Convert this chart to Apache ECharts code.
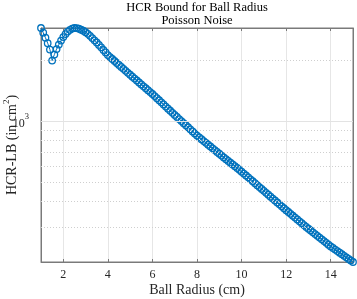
<!DOCTYPE html>
<html>
<head>
<meta charset="utf-8">
<script src="https://cdn.jsdelivr.net/npm/echarts@6/dist/echarts.min.js"></script>
<style>
html,body{margin:0;padding:0;background:#fff;}
#chart{width:357px;height:299px;}
</style>
</head>
<body>
<div id="chart"></div>
<script>
// Ball radius (cm)
var radius = [
  1.0,1.1,1.2,1.3,1.4,1.5,1.6,1.7,1.8,1.9,
  2.0,2.1,2.2,2.3,2.4,2.5,2.6,2.7,2.8,2.9,
  3.0,3.1,3.2,3.3,3.4,3.5,3.6,3.7,3.8,3.9,
  4.0,4.1,4.2,4.3,4.4,4.5,4.6,4.7,4.8,4.9,
  5.0,5.1,5.2,5.3,5.4,5.5,5.6,5.7,5.8,5.9,
  6.0,6.1,6.2,6.3,6.4,6.5,6.6,6.7,6.8,6.9,
  7.0,7.1,7.2,7.3,7.4,7.5,7.6,7.7,7.8,7.9,
  8.0,8.1,8.2,8.3,8.4,8.5,8.6,8.7,8.8,8.9,
  9.0,9.1,9.2,9.3,9.4,9.5,9.6,9.7,9.8,9.9,
  10.0,10.1,10.2,10.3,10.4,10.5,10.6,10.7,10.8,10.9,
  11.0,11.1,11.2,11.3,11.4,11.5,11.6,11.7,11.8,11.9,
  12.0,12.1,12.2,12.3,12.4,12.5,12.6,12.7,12.8,12.9,
  13.0,13.1,13.2,13.3,13.4,13.5,13.6,13.7,13.8,13.9,
  14.0,14.1,14.2,14.3,14.4,14.5,14.6,14.7,14.8,14.9,
  15.0
];
// HCR lower bound (cm^2)
var hcrLB = [
  2875,2725,2575,2420,2250,1985,2126,2263,2382,2492,
  2593,2683,2760,2817,2855,2875,2871,2851,2818,2786,
  2742,2692,2630,2564,2500,2438,2371,2307,2239,2178,
  2113,2066,2021,1976,1932,1890,1848,1807,1767,1728,
  1690,1653,1618,1583,1548,1515,1482,1450,1419,1388,
  1358,1326,1295,1265,1235,1206,1178,1150,1123,1097,
  1071,1047,1022,999,975,953,931,909,888,867,
  847,830,813,796,780,764,748,733,718,703,
  689,675,661,648,635,622,610,598,586,574,
  562,550,538,527,515,504,493,482,472,462,
  452,442,433,423,414,405,396,388,379,371,
  363,355.5,348,340.7,333.6,326.6,319.7,313,306.5,300,
  293.8,288,282.3,276.7,271.2,265.8,260.5,255.4,250.3,245.3,
  240.5,236.2,232,227.9,223.9,220,216.1,212.3,208.6,204.9,
  201.4
];
var xTicks = [2,4,6,8,10,12,14];
var yMajorGrid = [1000];
var yMinorGrid = [300,400,500,600,700,800,900,2000];
var titleText = 'HCR Bound for Ball Radius';
var subtitleText = 'Poisson Noise';
var xName = 'Ball Radius (cm)';
var yName = 'HCR-LB (in cm{s|2})';

var X_MIN = 1, X_MAX = 15, Y_MIN = 201.4, Y_MAX = 2875;
var FONT = '"Liberation Serif","Times New Roman",serif';
var AX = '#7a7a7a', TXT = '#262626';

var pts = radius.map(function(x,i){ return [x, hcrLB[i]]; });

var chart = echarts.init(document.getElementById('chart'), null, {renderer:'canvas'});
chart.setOption({
  animation:false,
  backgroundColor:'#fff',
  textStyle:{fontFamily:FONT},
  title:{
    text: titleText, subtext: subtitleText,
    left:197, top:2, textAlign:'center', itemGap:0, padding:0,
    textStyle:{fontFamily:FONT,fontSize:12.5,fontWeight:'normal',color:'#000',lineHeight:12},
    subtextStyle:{fontFamily:FONT,fontSize:12.5,fontWeight:'normal',color:'#000',lineHeight:12}
  },
  grid:{left:41,right:4,top:28,bottom:37,containLabel:false,outerBoundsMode:'none',
        show:true,borderColor:AX,borderWidth:1,backgroundColor:'rgba(0,0,0,0)'},
  xAxis:[{
    type:'value', min:X_MIN, max:X_MAX, position:'bottom',
    name:xName, nameLocation:'middle', nameGap:20, nameMoveOverlap:false,
    nameTextStyle:{fontFamily:FONT,fontSize:14,color:TXT,lineHeight:16},
    axisLine:{show:true,onZero:false,lineStyle:{color:AX,width:1}},
    axisTick:{show:true,inside:true,length:3,customValues:xTicks,lineStyle:{color:AX}},
    axisLabel:{show:true,customValues:xTicks,margin:7,fontFamily:FONT,fontSize:12,color:TXT},
    splitLine:{show:true,lineStyle:{color:'#e6e6e6',width:1}}
  },{
    type:'value', min:X_MIN, max:X_MAX, position:'top',
    axisLine:{show:true,onZero:false,lineStyle:{color:AX,width:1}},
    axisTick:{show:true,inside:true,length:3,customValues:xTicks,lineStyle:{color:AX}},
    axisLabel:{show:false},
    splitLine:{show:false}
  }],
  yAxis:[{
    type:'log', logBase:10, min:Y_MIN, max:Y_MAX, position:'left',
    name:yName, nameLocation:'middle', nameRotate:90, nameGap:19, nameMoveOverlap:false,
    nameTextStyle:{fontFamily:FONT,fontSize:14,color:TXT,lineHeight:20,
      rich:{s:{fontFamily:FONT,fontSize:9,color:TXT,lineHeight:8,verticalAlign:'top'}}},
    axisLine:{show:true,onZero:false,lineStyle:{color:AX,width:1}},
    axisTick:{show:false},
    minorTick:{show:false},
    axisLabel:{show:true,margin:12,
      formatter:function(v){ return Math.abs(v-1000)<1 ? '{b|10}{s|3}' : ''; },
      rich:{
        b:{fontFamily:FONT,fontSize:12,color:TXT,lineHeight:18,padding:[6,0,0,0],verticalAlign:'bottom'},
        s:{fontFamily:FONT,fontSize:8.5,color:TXT,lineHeight:18,verticalAlign:'top'}
      }},
    splitLine:{show:false},
    minorSplitLine:{show:false}
  },{
    type:'log', logBase:10, min:Y_MIN, max:Y_MAX, position:'right',
    axisLine:{show:true,onZero:false,lineStyle:{color:AX,width:1}},
    axisTick:{show:false},
    minorTick:{show:false},
    axisLabel:{show:false},
    splitLine:{show:false},
    minorSplitLine:{show:false}
  }],
  series:[{
    name:'minor grid', type:'line', data:[], z:1, silent:true,
    xAxisIndex:0, yAxisIndex:0,
    markLine:{
      silent:true, symbol:['none','none'], animation:false,
      label:{show:false},
      lineStyle:{color:'#cfcfcf',width:1,type:[1,2]},
      emphasis:{disabled:true},
      data: yMinorGrid.map(function(v){ return {yAxis:v}; })
    }
  },{
    name:'major grid', type:'line', data:[], z:1, silent:true,
    xAxisIndex:0, yAxisIndex:0,
    markLine:{
      silent:true, symbol:['none','none'], animation:false,
      label:{show:false},
      lineStyle:{color:'#e3e3e3',width:1,type:'solid'},
      emphasis:{disabled:true},
      data: yMajorGrid.map(function(v){ return {yAxis:v}; })
    }
  },{
    name:'HCR-LB', type:'line', data:pts, z:3, clip:false,
    xAxisIndex:0, yAxisIndex:0,
    symbol:'circle', symbolSize:6.5, showSymbol:true,
    lineStyle:{color:'#0072BD',width:1},
    itemStyle:{color:'rgba(0,0,0,0)',borderColor:'#0072BD',borderWidth:1.3},
    emphasis:{disabled:true}
  }]
});
</script>
</body>
</html>
